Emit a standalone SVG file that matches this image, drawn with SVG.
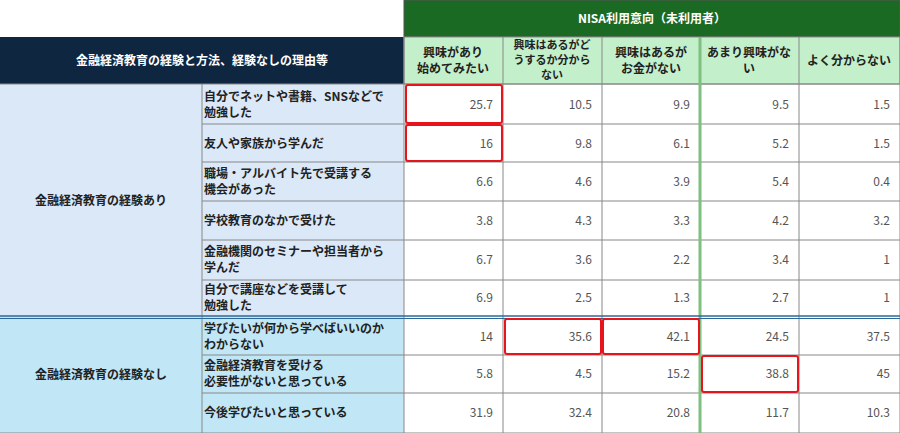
<svg xmlns="http://www.w3.org/2000/svg" width="900" height="433" viewBox="0 0 900 433">
<style>
text{font-family:"Noto Sans CJK JP","Liberation Sans",sans-serif;}
.h{font-size:12px;font-weight:bold;fill:#222}
.h3{font-size:11px}
.hw{font-size:12px;font-weight:bold;fill:#fff}
.l{font-size:12px;font-weight:bold;fill:#222}
.v{font-size:12px;fill:#555;text-anchor:end}
.g{stroke:#888;stroke-width:1;fill:none}
.r{stroke:#e8141c;stroke-width:2;fill:none}
</style>
<rect width="900" height="433" fill="#fff"/>
<g id="header">
<rect x="404" y="0" width="496" height="37" fill="#1b6a23" stroke="#555"/>
<text class="hw" x="652" y="23" text-anchor="middle">NISA利用意向（未利用者）</text>
<rect x="0" y="37" width="404" height="47" fill="#0f2641"/>
<text class="hw" x="202" y="65" text-anchor="middle">金融経済教育の経験と方法、経験なしの理由等</text>
<rect x="404" y="37" width="496" height="47" fill="#c4efcb" stroke="#888"/>
<g class="h" text-anchor="middle">
<text x="453" y="57">興味があり</text><text x="453" y="73">始めてみたい</text>
<text class="h3" x="552" y="49">興味はあるがど</text><text class="h3" x="552" y="64">うするか分から</text><text class="h3" x="552" y="79">ない</text>
<text x="651" y="57">興味はあるが</text><text x="651" y="73">お金がない</text>
<text x="749" y="57">あまり興味がな</text><text x="749" y="73">い</text>
<text x="849" y="65">よく分からない</text>
</g>
</g>
<g id="sections">
<rect x="0" y="84" width="404" height="233" fill="#dae8f7"/>
<rect x="0" y="317" width="404" height="116" fill="#c1e6f5"/>
<text class="l" x="101" y="205" text-anchor="middle">金融経済教育の経験あり</text>
<text class="l" x="101" y="379" text-anchor="middle">金融経済教育の経験なし</text>
<g class="l">
<text x="204" y="101">自分でネットや書籍、SNSなどで</text><text x="204" y="117">勉強した</text>
<text x="204" y="148">友人や家族から学んだ</text>
<text x="204" y="178">職場・アルバイト先で受講する</text><text x="204" y="194">機会があった</text>
<text x="204" y="225">学校教育のなかで受けた</text>
<text x="204" y="256">金融機関のセミナーや担当者から</text><text x="204" y="272">学んだ</text>
<text x="204" y="294">自分で講座などを受講して</text><text x="204" y="310">勉強した</text>
<text x="204" y="333">学びたいが何から学べばいいのか</text><text x="204" y="349">わからない</text>
<text x="204" y="370">金融経済教育を受ける</text><text x="204" y="386">必要性がないと思っている</text>
<text x="204" y="417">今後学びたいと思っている</text>
</g>
</g>
<g id="grid">
<path class="g" d="M202 84V433M404 37V433M503 37V433M602 37V433M799 37V433M900 37V433
M202 124H900M202 162H900M202 201H900M202 240H900M202 280H900M202 355H900M202 393H900M0 433H900M0 84H900"/>
<path d="M700 37V433" stroke="#7fbf7f" stroke-width="3"/>
<path d="M0 316H900" stroke="#2b6a98" stroke-width="1.5"/>
<path d="M0 318.5H900" stroke="#2b6a98" stroke-width="1"/>
</g>
<g id="values">
<g class="v">
<text x="493" y="109">25.7</text><text x="592" y="109">10.5</text><text x="690" y="109">9.9</text><text x="789" y="109">9.5</text><text x="890" y="109">1.5</text>
<text x="493" y="148">16</text><text x="592" y="148">9.8</text><text x="690" y="148">6.1</text><text x="789" y="148">5.2</text><text x="890" y="148">1.5</text>
<text x="493" y="186">6.6</text><text x="592" y="186">4.6</text><text x="690" y="186">3.9</text><text x="789" y="186">5.4</text><text x="890" y="186">0.4</text>
<text x="493" y="225">3.8</text><text x="592" y="225">4.3</text><text x="690" y="225">3.3</text><text x="789" y="225">4.2</text><text x="890" y="225">3.2</text>
<text x="493" y="264">6.7</text><text x="592" y="264">3.6</text><text x="690" y="264">2.2</text><text x="789" y="264">3.4</text><text x="890" y="264">1</text>
<text x="493" y="302">6.9</text><text x="592" y="302">2.5</text><text x="690" y="302">1.3</text><text x="789" y="302">2.7</text><text x="890" y="302">1</text>
<text x="493" y="341">14</text><text x="592" y="341">35.6</text><text x="690" y="341">42.1</text><text x="789" y="341">24.5</text><text x="890" y="341">37.5</text>
<text x="493" y="378">5.8</text><text x="592" y="378">4.5</text><text x="690" y="378">15.2</text><text x="789" y="378">38.8</text><text x="890" y="378">45</text>
<text x="493" y="417">31.9</text><text x="592" y="417">32.4</text><text x="690" y="417">20.8</text><text x="789" y="417">11.7</text><text x="890" y="417">10.3</text>
</g>
</g>
<g id="highlights">
<rect class="r" x="406" y="85" width="96" height="38" rx="2"/>
<rect class="r" x="406" y="125" width="96" height="36" rx="2"/>
<rect class="r" x="505" y="319" width="96" height="35" rx="2"/>
<rect class="r" x="603" y="319" width="96" height="35" rx="2"/>
<rect class="r" x="702" y="356" width="96" height="36" rx="2"/>
</g>
</svg>
